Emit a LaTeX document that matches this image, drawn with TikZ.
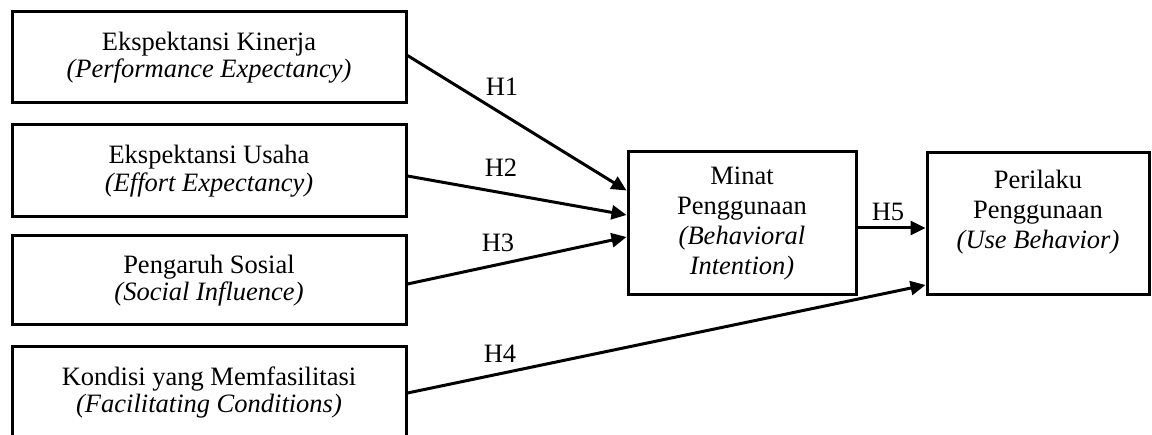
\documentclass[tikz,border=0pt]{standalone}
\usepackage{fontspec}
\setmainfont{Liberation Serif}
\usetikzlibrary{arrows.meta,calc}
\begin{document}
\begin{tikzpicture}[x=1pt,y=-1pt,
  every node/.style={font=\fontsize{26.5}{27.5}\selectfont},
  box/.style={draw,line width=3pt,rectangle,align=center,inner sep=0pt},
  tall/.style={box,font=\fontsize{26.5}{30}\selectfont},
  arr/.style={line width=3pt,-{Triangle[length=15pt,width=14pt]}},
  lab/.style={inner sep=0pt}]
\useasboundingbox (0,0) rectangle (1152,435);
\clip (0,0) rectangle (1152,435);
\node[box,minimum width=394pt,minimum height=91pt] (b1) at (209,57.5) {Ekspektansi Kinerja\\\textit{(Performance Expectancy)}};
\node[box,minimum width=394pt,minimum height=92pt] (b2) at (209,171) {Ekspektansi Usaha\\\textit{(Effort Expectancy)}};
\node[box,minimum width=394pt,minimum height=89pt] (b3) at (209,280.5) {Pengaruh Sosial\\\textit{(Social Influence)}};
\node[box,minimum width=394pt,minimum height=91pt] (b4) at (209,392.5) {Kondisi yang Memfasilitasi\\\textit{(Facilitating Conditions)}};
\node[tall,minimum width=228pt,minimum height=143pt] (m) at (742,223.5) {Minat\\Penggunaan\\\textit{(Behavioral}\\\textit{Intention)}};
\node[tall,minimum width=222pt,minimum height=142pt] (p) at (1038,224) {Perilaku\\Penggunaan\\\textit{(Use Behavior)}\\\mbox{}};
\draw[arr] ($(b1.east)+(0,-2)$) -- ($(m.west)+(0,-33)$);
\draw[arr] ($(b2.east)+(0,5)$) -- ($(m.west)+(0,-8.5)$);
\draw[arr] ($(b3.east)+(0,3.5)$) -- ($(m.west)+(0,13.5)$);
\draw[arr] ($(b4.east)+(0,0.5)$) -- ($(p.west)+(0,61)$);
\draw[arr] ($(m.east)+(0,4.5)$) -- ($(p.west)+(0,4)$);
\node[lab] (h1) at (502,87) {H1};
\node[lab] (h2) at (501,168) {H2};
\node[lab] (h3) at (498,243) {H3};
\node[lab] (h4) at (500,354) {H4};
\node[lab] (h5) at (888,212) {H5};
\end{tikzpicture}
\end{document}
